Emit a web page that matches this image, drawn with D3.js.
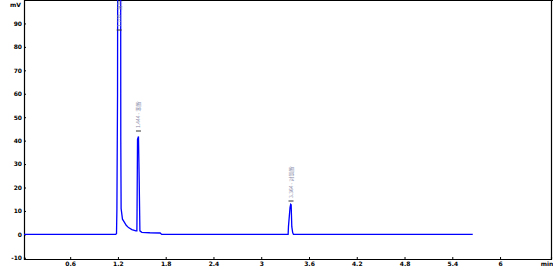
<!DOCTYPE html>
<html><head><meta charset="utf-8">
<script src="https://cdn.jsdelivr.net/npm/d3@7"></script>
<style>body{margin:0;background:#fff}svg{display:block}</style>
</head><body>
<script>
// data
const times = [0.02,1.17,1.182,1.187,1.195,1.200,1.218,1.232,1.236,1.240,1.257,1.278,1.304,1.333,1.375,1.425,1.438,1.440,1.446,1.458,1.467,1.476,1.50,1.60,1.73,1.75,3.338,3.342,3.362,3.370,3.376,3.384,3.395,3.405,5.657];
const signal = [0,0,0.3,10.5,60,200,400,200,40,11,6.5,5.35,3.9,2.9,2.06,1.5,1.5,9.3,40.5,41.8,23.2,1.5,0.9,0.7,0.6,0,0,3.3,11.5,12.8,12.6,3.3,0.8,0,0];
const peakTimes = [1.216, 1.458, 3.374];
const peakLabels = ["1.209 - 溶剂", "1.444 - 苯酚", "3.364 - 对氯酚"];
const xTicks = [0.6,1.2,1.8,2.4,3,3.6,4.2,4.8,5.4,6];
const yTicks = [-10,0,10,20,30,40,50,60,70,80,90];
const xUnit = "min", yUnit = "mV";

const W=553,H=270;
const svg=d3.select("body").append("svg").attr("width",W).attr("height",H);
const x=d3.scaleLinear().domain([0.02,6.64]).range([24,551]);
const y=d3.scaleLinear().domain([-10.5,100]).range([259,0]);

svg.append("defs").append("clipPath").attr("id","c").append("rect")
  .attr("x",24).attr("y",0).attr("width",527).attr("height",259);

const font="DejaVu Sans";
const xa=svg.append("g").attr("transform","translate(0,259)")
  .call(d3.axisBottom(x).tickValues(xTicks).tickSize(-2).tickPadding(3).tickFormat(d=>String(d)));
const ya=svg.append("g").attr("transform","translate(24,0)")
  .call(d3.axisLeft(y).tickValues(yTicks).tickSize(-2).tickPadding(3).tickFormat(d=>String(d)));
[xa,ya].forEach(a=>{
  a.select(".domain").attr("stroke","#000").attr("stroke-width",1.2);
  a.selectAll(".tick line").attr("stroke","#000");
  a.selectAll("text").attr("font-family",font).attr("font-size",6).attr("font-weight","bold").attr("fill","#000");
});
ya.selectAll("text").attr("dx",1);
svg.append("line").attr("x1",24).attr("x2",553).attr("y1",0.5).attr("y2",0.5).attr("stroke","#000").attr("stroke-width",1.2);
svg.append("line").attr("x1",551.5).attr("x2",551.5).attr("y1",0).attr("y2",259).attr("stroke","#000").attr("stroke-width",1.2);
svg.append("text").text(yUnit).attr("x",21).attr("y",7).attr("text-anchor","end")
  .attr("font-family",font).attr("font-size",6).attr("font-weight","bold");
svg.append("text").text(xUnit).attr("x",547).attr("y",265.5).attr("text-anchor","middle")
  .attr("font-family",font).attr("font-size",6).attr("font-weight","bold");

const pts=times.map((t,i)=>[t,signal[i]]);
svg.append("path").datum(pts).attr("clip-path","url(#c)")
  .attr("fill","none").attr("stroke","#0000ff").attr("stroke-width",1.3)
  .attr("d",d3.line().x(d=>x(d[0])).y(d=>y(d[1])));

const labY=[30,131,201];
peakTimes.forEach((t,i)=>{
  const px=x(t), py=labY[i];
  svg.append("line").attr("x1",px-2.5).attr("x2",px+2.5).attr("y1",py).attr("y2",py)
    .attr("stroke","#333").attr("stroke-width",1);
  svg.append("text").text(peakLabels[i])
    .attr("transform",`translate(${px+2},${py-3}) rotate(-90)`)
    .attr("font-family","Noto Sans CJK SC").attr("font-size",5).attr("fill","#8888a8");
});
</script>
</body></html>
